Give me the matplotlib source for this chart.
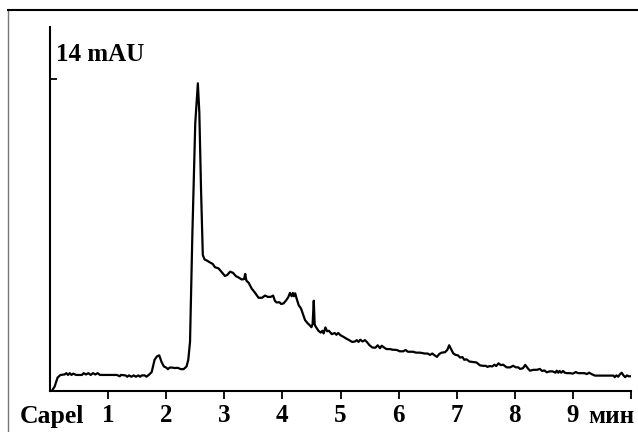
import matplotlib
matplotlib.use("Agg")
import matplotlib.pyplot as plt
from matplotlib.lines import Line2D

# Chromatogram trace (time in min, absorbance in mAU)
time_min = [0.03, 0.08, 0.13, 0.18, 0.25, 0.28, 0.31, 0.34, 0.37, 0.40, 0.45, 0.55, 0.58, 0.62, 0.66,
            0.70, 0.74, 0.78, 0.82, 0.86, 0.95, 1.05, 1.15, 1.20, 1.22, 1.30, 1.33, 1.36, 1.40, 1.44,
            1.48, 1.52, 1.55, 1.58, 1.63, 1.66, 1.70, 1.75, 1.80, 1.84, 1.88, 1.92, 1.96, 2.00, 2.03,
            2.06, 2.10, 2.15, 2.20, 2.25, 2.30, 2.35, 2.38, 2.41, 2.45, 2.50, 2.545, 2.57, 2.60, 2.63,
            2.66, 2.70, 2.75, 2.80, 2.84, 2.90, 2.95, 3.01, 3.05, 3.10, 3.15, 3.20, 3.24, 3.30, 3.34,
            3.36, 3.38, 3.42, 3.47, 3.53, 3.59, 3.65, 3.70, 3.75, 3.80, 3.84, 3.87, 3.90, 3.95, 3.98,
            4.02, 4.06, 4.10, 4.13, 4.16, 4.18, 4.20, 4.22, 4.25, 4.28, 4.32, 4.36, 4.39, 4.43, 4.47,
            4.50, 4.52, 4.54, 4.555, 4.57, 4.62, 4.66, 4.69, 4.71, 4.74, 4.77, 4.80, 4.85, 4.90, 4.93,
            4.96, 5.00, 5.05, 5.10, 5.15, 5.20, 5.25, 5.28, 5.31, 5.34, 5.38, 5.42, 5.45, 5.50, 5.55,
            5.60, 5.64, 5.68, 5.71, 5.75, 5.79, 5.85, 5.90, 5.97, 6.02, 6.08, 6.12, 6.16, 6.25, 6.30,
            6.37, 6.45, 6.50, 6.54, 6.58, 6.62, 6.66, 6.70, 6.74, 6.80, 6.84, 6.87, 6.91, 6.94, 6.98,
            7.02, 7.06, 7.10, 7.13, 7.17, 7.22, 7.28, 7.34, 7.40, 7.45, 7.50, 7.53, 7.57, 7.61, 7.65,
            7.68, 7.72, 7.76, 7.80, 7.86, 7.92, 7.97, 8.02, 8.06, 8.09, 8.14, 8.18, 8.22, 8.26, 8.32,
            8.38, 8.43, 8.47, 8.51, 8.55, 8.60, 8.65, 8.70, 8.72, 8.75, 8.77, 8.80, 8.83, 8.86, 8.90,
            8.95, 9.00, 9.05, 9.09, 9.15, 9.20, 9.24, 9.28, 9.32, 9.38, 9.50, 9.60, 9.70, 9.72, 9.75,
            9.78, 9.81, 9.84, 9.87, 9.90, 9.93, 9.96, 9.98]
signal_mau = [0.0, 0.2, 0.6, 0.72, 0.74, 0.80, 0.72, 0.80, 0.72, 0.78, 0.72, 0.72, 0.80, 0.74, 0.80,
              0.72, 0.80, 0.74, 0.80, 0.72, 0.72, 0.72, 0.72, 0.66, 0.72, 0.70, 0.64, 0.70, 0.64, 0.70,
              0.64, 0.70, 0.64, 0.70, 0.70, 0.64, 0.72, 0.85, 1.40, 1.55, 1.60, 1.30, 1.10, 1.05, 0.98,
              1.05, 1.05, 1.03, 1.04, 0.98, 0.98, 1.10, 1.40, 2.20, 7.00, 12.0, 13.8, 12.5, 9.0, 6.1,
              5.9, 5.85, 5.77, 5.70, 5.55, 5.50, 5.35, 5.16, 5.20, 5.35, 5.30, 5.15, 5.10, 5.00, 5.02,
              5.25, 4.95, 4.85, 4.60, 4.40, 4.18, 4.18, 4.28, 4.22, 4.22, 4.28, 4.05, 3.97, 3.98, 3.90,
              3.93, 4.05, 4.20, 4.40, 4.25, 4.40, 4.25, 4.38, 4.10, 3.85, 3.70, 3.40, 3.18, 3.05, 2.95,
              2.86, 3.00, 4.05, 3.00, 2.90, 2.70, 2.62, 2.70, 2.58, 2.85, 2.68, 2.70, 2.55, 2.60, 2.52,
              2.60, 2.50, 2.43, 2.35, 2.28, 2.20, 2.22, 2.28, 2.20, 2.30, 2.22, 2.28, 2.21, 2.05, 1.95,
              1.94, 2.05, 1.92, 2.03, 1.95, 1.88, 1.88, 1.85, 1.84, 1.78, 1.78, 1.84, 1.76, 1.76, 1.72,
              1.72, 1.68, 1.68, 1.62, 1.68, 1.60, 1.53, 1.66, 1.72, 1.74, 1.85, 2.05, 1.85, 1.69, 1.62,
              1.60, 1.50, 1.52, 1.40, 1.42, 1.32, 1.30, 1.28, 1.15, 1.13, 1.13, 1.08, 1.12, 1.10, 1.18,
              1.12, 1.24, 1.16, 1.18, 1.06, 1.06, 1.13, 1.06, 1.06, 0.99, 1.02, 1.17, 1.03, 0.91, 0.95,
              0.95, 0.99, 0.90, 0.92, 0.84, 0.88, 0.88, 0.82, 0.91, 0.82, 0.90, 0.82, 0.90, 0.82, 0.80,
              0.80, 0.78, 0.85, 0.80, 0.80, 0.80, 0.76, 0.82, 0.76, 0.69, 0.69, 0.69, 0.69, 0.62, 0.70,
              0.64, 0.75, 0.82, 0.70, 0.62, 0.70, 0.66, 0.66]

x_ticks = [1, 2, 3, 4, 5, 6, 7, 8, 9, 10]
x_tick_labels = ["1", "2", "3", "4", "5", "6", "7", "8", "9", ""]
y_ticks = [14]
y_label_text = "14 mAU"
x_left_text = "Capel"
x_unit_text = "мин"

W, H = 638, 432
fig = plt.figure(figsize=(W / 100, H / 100), dpi=100)
fig.patch.set_facecolor("white")

# outer frame (left and top border)
fig.add_artist(Line2D([8 / W, 8 / W], [0, 1 - 10 / H], transform=fig.transFigure,
                      color="#777777", lw=1.0))
fig.add_artist(Line2D([8 / W, 1.0], [1 - 10 / H, 1 - 10 / H], transform=fig.transFigure,
                      color="black", lw=1.5))

ax = fig.add_axes([50 / W, (H - 391) / H, 581 / W, (391 - 27) / H])
ax.plot(time_min, signal_mau, color="black", lw=1.6, solid_joinstyle="round")
ax.set_xlim(0, 10)
ax.set_ylim(0, (391 - 27) / 22.3)

for s in ["top", "right"]:
    ax.spines[s].set_visible(False)
for s in ["left", "bottom"]:
    ax.spines[s].set_linewidth(1.5)
    ax.spines[s].set_color("black")

serif = {"family": "Liberation Serif", "weight": "bold"}
ax.set_xticks(x_ticks)
ax.set_xticklabels(x_tick_labels, fontdict=dict(serif, size=18))
ax.tick_params(axis="x", direction="out", length=6, width=1.3, pad=3)
ax.set_yticks(y_ticks)
ax.set_yticklabels([])
ax.tick_params(axis="y", direction="in", length=5, width=1.3)

fig.text(56 / W, 1 - 61 / H, y_label_text, ha="left", va="baseline",
         fontsize=18, fontfamily="Liberation Serif", fontweight="bold")
fig.text(20 / W, 1 - 423 / H, x_left_text, ha="left", va="baseline",
         fontsize=18.5, fontfamily="Liberation Serif", fontweight="bold")
fig.text(634 / W, 1 - 423 / H, x_unit_text, ha="right", va="baseline",
         fontsize=18, fontfamily="Liberation Serif", fontweight="bold")

fig.savefig("out.png", dpi=100, facecolor="white")
